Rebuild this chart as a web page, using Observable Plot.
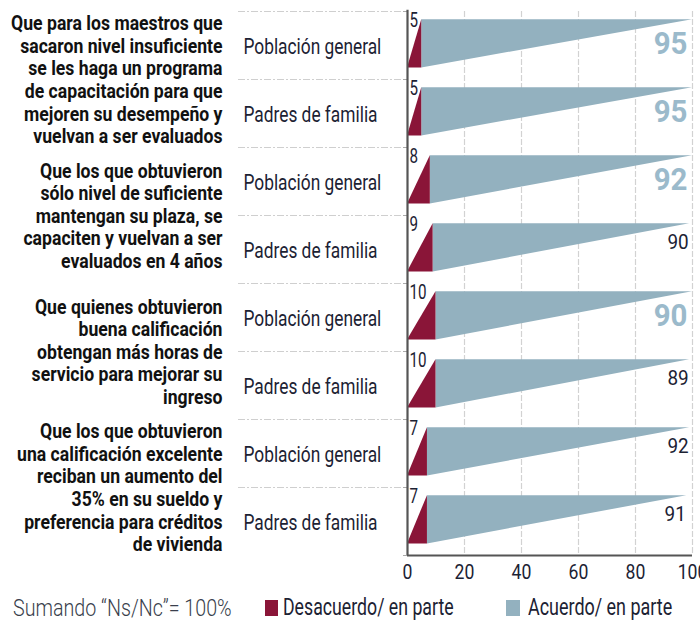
<!DOCTYPE html>
<html>
<head>
<meta charset="utf-8">
<script src="https://cdn.jsdelivr.net/npm/d3@7"></script>
<script src="https://cdn.jsdelivr.net/npm/@observablehq/plot@0.6"></script>
<style>
  html, body { margin: 0; padding: 0; background: #fff; }
  body { width: 700px; height: 621px; overflow: hidden; position: relative; font-family: Roboto, "Noto Sans", sans-serif; }
  #legend { position: absolute; left: 0; top: 590px; width: 700px; height: 31px; color: #3a3f4d; }
  #legend .item { position: absolute; top: 5px; line-height: 26px; white-space: nowrap; transform-origin: 0 50%; }
  #legend .sw { position: absolute; top: 10px; width: 13px; height: 16px; }
</style>
</head>
<body>
<div id="chart"></div>
<div id="legend"></div>
<script>
const grupos = [
  "Que para los maestros que\nsacaron nivel insuficiente\nse les haga un programa\nde capacitación para que\nmejoren su desempeño y\nvuelvan a ser evaluados",
  "Que los que obtuvieron\nsólo nivel de suficiente\nmantengan su plaza, se\ncapaciten y vuelvan a ser\nevaluados en 4 años",
  "Que quienes obtuvieron\nbuena calificación\nobtengan más horas de\nservicio para mejorar su\ningreso",
  "Que los que obtuvieron\nuna calificación excelente\nreciban un aumento del\n35% en su sueldo y\npreferencia para créditos\nde vivienda"
];
const subgrupos = ["Población general", "Padres de familia"];
const desacuerdo = [5, 5, 8, 9, 10, 10, 7, 7];
const acuerdo = [95, 95, 92, 90, 90, 89, 92, 91];
const destacado = [true, true, true, false, true, false, false, false];
const xTicks = [0, 20, 40, 60, 80, 100];
const leyenda = ["Sumando “Ns/Nc”= 100%", "Desacuerdo/ en parte", "Acuerdo/ en parte"];

const ROJO = "#8a1538", AZUL = "#93b1bf", AZUL_TXT = "#9bbacb", TINTA = "#1c2233";
const TOP = 0.12, BOT = 0.83;

const rows = desacuerdo.map((d, i) => ({
  i, d, a: acuerdo[i], big: destacado[i], sub: subgrupos[i % 2]
}));
const redPts = rows.flatMap(r => [
  {i: r.i, y: r.i + TOP, x1: r.d, x2: r.d},
  {i: r.i, y: r.i + BOT, x1: 0, x2: r.d}
]);
const bluePts = rows.flatMap(r => [
  {i: r.i, y: r.i + TOP, x1: r.d, x2: r.d + r.a},
  {i: r.i, y: r.i + BOT, x1: r.d, x2: r.d}
]);
const groupRows = grupos.map((t, g) => ({t, y: 2 * g + 1}));
const bounds = d3.range(0, 8);
const ticksY = d3.range(0, 9);

const plot = Plot.plot({
  width: 700,
  height: 590,
  marginLeft: 407,
  marginRight: 8,
  marginTop: 11,
  marginBottom: 35,
  style: {fontFamily: "Roboto, 'Noto Sans', sans-serif", fontSize: "19px", background: "#fff", overflow: "visible"},
  x: {domain: [0, 100], axis: null},
  y: {domain: [0, 8], reverse: true, axis: null},
  marks: [
    Plot.ruleX(xTicks.slice(1), {y1: 0, y2: 8, stroke: "#d2d2d2", strokeWidth: 1.2, strokeDasharray: "6,2"}),
    Plot.ruleY(bounds, {x1: -59.3, x2: -1.5, stroke: "#cfcfcf", strokeWidth: 1.2, strokeDasharray: "7,2,2,2"}),
    Plot.ruleY(ticksY, {x1: -1.4, x2: 0, stroke: "#aaa"}),
    Plot.areaX(bluePts, {y: "y", x1: "x1", x2: "x2", z: "i", fill: AZUL}),
    Plot.areaX(redPts, {y: "y", x1: "x1", x2: "x2", z: "i", fill: ROJO}),
    Plot.ruleX([0], {y1: -0.02, y2: 8, stroke: "#555", strokeWidth: 2.2}),
    Plot.ruleY([8], {x1: 0, x2: 100, stroke: "#555", strokeWidth: 2.2}),
    Plot.text(groupRows, {x: 0, y: "y", text: "t", dx: -185, textAnchor: "end", lineAnchor: "middle", lineHeight: 1.1, fontWeight: "bold", fill: "#111", fontSize: 20.5}),
    Plot.text(rows, {x: 0, y: d => d.i + 0.52, text: "sub", dx: -164, textAnchor: "start", lineAnchor: "middle", fill: TINTA, fontSize: 22.5}),
    Plot.text(rows, {x: 0, y: d => d.i + TOP, text: d => String(d.d), dx: 2, textAnchor: "start", lineAnchor: "middle", dy: 1, fill: TINTA, fontSize: 20}),
    Plot.text(rows.filter(r => r.big), {x: d => d.d + d.a, y: d => d.i + 0.475, text: d => String(d.a), dx: -5, textAnchor: "end", lineAnchor: "middle", fill: AZUL_TXT, fontSize: 32, fontWeight: "bold"}),
    Plot.text(rows.filter(r => !r.big), {x: d => d.d + d.a, y: d => d.i + 0.39, text: d => String(d.a), dx: -1, textAnchor: "end", lineAnchor: "middle", fill: TINTA, fontSize: 21}),
    Plot.text(xTicks, {x: d => d, y: 8, text: d => String(d), dy: 17, lineAnchor: "middle", fill: TINTA, fontSize: 21})
  ]
});
document.getElementById("chart").appendChild(plot);

// horizontal condensing of text (the reference uses a condensed face)
const condense = [0.86, 0.77, 0.76, 0.92, 0.9, 0.84];
plot.querySelectorAll('g[aria-label="text"]').forEach((g, k) => {
  const s = condense[k] ?? 0.85;
  g.querySelectorAll("text").forEach(t => {
    let tr = t.getAttribute("transform");
    if (!tr) {
      const x = +t.getAttribute("x") || 0, y = +t.getAttribute("y") || 0;
      t.removeAttribute("x"); t.removeAttribute("y");
      tr = `translate(${x},${y})`;
    }
    t.setAttribute("transform", `${tr} scale(${s},1)`);
  });
});

const lg = document.getElementById("legend");
lg.innerHTML = `
  <span class="item" style="left:13px;font-size:24px;font-weight:300;transform:scaleX(0.82)">${leyenda[0]}</span>
  <span class="sw" style="left:265px;background:${ROJO}"></span>
  <span class="item" style="left:283px;font-size:23px;color:${TINTA};transform:scaleX(0.77)">${leyenda[1]}</span>
  <span class="sw" style="left:506px;background:${AZUL};width:14px"></span>
  <span class="item" style="left:528px;font-size:23px;color:${TINTA};transform:scaleX(0.78)">${leyenda[2]}</span>
`;
</script>
</body>
</html>
